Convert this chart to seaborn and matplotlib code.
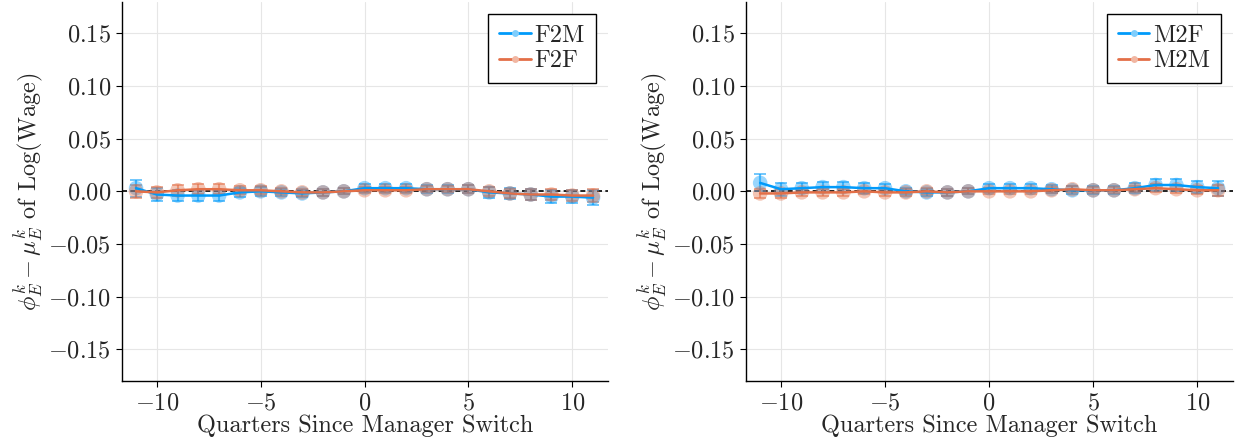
import numpy as np
import pandas as pd
import matplotlib
matplotlib.use("Agg")
import matplotlib.pyplot as plt
import seaborn as sns

quarters = list(range(-11, 12))

f2m = [0.003, -0.003, -0.004, -0.004, -0.004, -0.001, 0.000, -0.001, -0.002, -0.001, 0.000, 0.003,
       0.003, 0.003, 0.002, 0.002, 0.002, -0.001, -0.002, -0.003, -0.005, -0.005, -0.006]
f2m_err = [0.008, 0.006, 0.005, 0.005, 0.005, 0.004, 0.004, 0.003, 0.003, 0.003, 0.003, 0.004,
           0.004, 0.004, 0.004, 0.004, 0.004, 0.005, 0.005, 0.005, 0.006, 0.006, 0.007]
f2f = [0.000, -0.001, 0.001, 0.002, 0.002, 0.001, 0.001, 0.000, -0.001, -0.001, 0.000, 0.001,
       0.001, 0.001, 0.002, 0.002, 0.002, 0.000, -0.002, -0.003, -0.003, -0.004, -0.004]
f2f_err = [0.006, 0.005, 0.005, 0.005, 0.005, 0.004, 0.004, 0.003, 0.003, 0.003, 0.003, 0.003,
           0.003, 0.003, 0.003, 0.003, 0.004, 0.004, 0.004, 0.005, 0.005, 0.005, 0.006]

m2f = [0.008, 0.002, 0.003, 0.004, 0.004, 0.003, 0.003, 0.000, -0.001, -0.001, 0.000, 0.003,
       0.003, 0.003, 0.002, 0.001, 0.001, 0.001, 0.003, 0.006, 0.006, 0.004, 0.003]
m2f_err = [0.008, 0.006, 0.005, 0.005, 0.005, 0.005, 0.004, 0.003, 0.003, 0.003, 0.003, 0.004,
           0.004, 0.004, 0.004, 0.004, 0.004, 0.004, 0.005, 0.006, 0.006, 0.006, 0.007]
m2m = [-0.002, -0.002, -0.001, -0.001, -0.001, 0.000, -0.001, -0.001, 0.000, -0.001, 0.000, 0.000,
       0.000, 0.000, 0.001, 0.002, 0.001, 0.001, 0.002, 0.003, 0.002, 0.001, 0.001]
m2m_err = [0.004, 0.004, 0.003, 0.003, 0.003, 0.003, 0.003, 0.003, 0.003, 0.003, 0.003, 0.003,
           0.003, 0.003, 0.003, 0.003, 0.003, 0.003, 0.003, 0.004, 0.004, 0.004, 0.005]

yticks = [-0.15, -0.10, -0.05, 0.00, 0.05, 0.10, 0.15]
xticks = [-10, -5, 0, 5, 10]

BLUE = "#009AFA"
ORANGE = "#E36F47"
FS = 17.5

sns.set_theme(style="white")
plt.rcParams.update({
    "font.family": "serif",
    "font.serif": ["cmr10"],
    "mathtext.fontset": "cm",
    "axes.formatter.use_mathtext": True,
})

fig = plt.figure(figsize=(12.38, 4.46), dpi=100)
ax1 = fig.add_axes([0.0985, 0.146, 0.3926, 0.850])
ax2 = fig.add_axes([0.6026, 0.146, 0.3934, 0.850])

def panel(ax, s1, e1, n1, s2, e2, n2):
    df = pd.DataFrame({
        "q": quarters * 2,
        "v": s1 + s2,
        "e": e1 + e2,
        "g": [n1] * len(quarters) + [n2] * len(quarters),
    })
    ax.axhline(0, color="black", ls=(0, (3, 2)), lw=1.2, zorder=1)
    for name, col in [(n1, BLUE), (n2, ORANGE)]:
        d = df[df.g == name]
        ax.errorbar(d.q, d.v, yerr=d.e, fmt="none", ecolor=col, alpha=0.6,
                    elinewidth=1.5, capsize=4, capthick=1.3, zorder=2)
    sns.scatterplot(data=df, x="q", y="v", hue="g", palette=[BLUE, ORANGE],
                    s=110, alpha=0.4, edgecolor="none", legend=False, ax=ax, zorder=3)
    sns.lineplot(data=df, x="q", y="v", hue="g", palette=[BLUE, ORANGE],
                 lw=1.8, ax=ax, zorder=4, legend=False)
    handles = [plt.Line2D([], [], color=BLUE, lw=2, marker="o", ms=5,
                          markerfacecolor="#7fcdfc", markeredgecolor="none"),
               plt.Line2D([], [], color=ORANGE, lw=2, marker="o", ms=5,
                          markerfacecolor="#f1b7a3", markeredgecolor="none")]
    leg = ax.legend(handles, [n1, n2], loc="upper right", fontsize=FS, frameon=True,
                    fancybox=False, edgecolor="black", framealpha=1,
                    handlelength=1.3, handletextpad=0.15, borderpad=0.45,
                    labelspacing=0.12, borderaxespad=0.5)
    leg.get_frame().set_linewidth(1.0)
    ax.set_xlim(-11.68, 11.72)
    ax.set_ylim(-0.18, 0.18)
    ax.set_xticks(xticks)
    ax.set_yticks(yticks)
    ax.set_yticklabels([f"${t:.2f}$" for t in yticks])
    ax.set_xticklabels([f"${t}$" for t in xticks])
    ax.grid(True, color="#e6e6e6", lw=0.8)
    for s in ["top", "right"]:
        ax.spines[s].set_visible(False)
    for s in ["left", "bottom"]:
        ax.spines[s].set_color("black")
        ax.spines[s].set_linewidth(1.0)
    ax.tick_params(axis="both", labelsize=FS, direction="out", length=4,
                   width=0.8, color="black", left=True, bottom=True, pad=4)
    ax.set_xlabel("Quarters Since Manager Switch", fontsize=FS, labelpad=0)
    ax.set_ylabel(r"$\phi^k_E - \mu^k_E$ of Log(Wage)", fontsize=FS, labelpad=2)

panel(ax1, f2m, f2m_err, "F2M", f2f, f2f_err, "F2F")
panel(ax2, m2f, m2f_err, "M2F", m2m, m2m_err, "M2M")

fig.savefig("out.png", dpi=100)
